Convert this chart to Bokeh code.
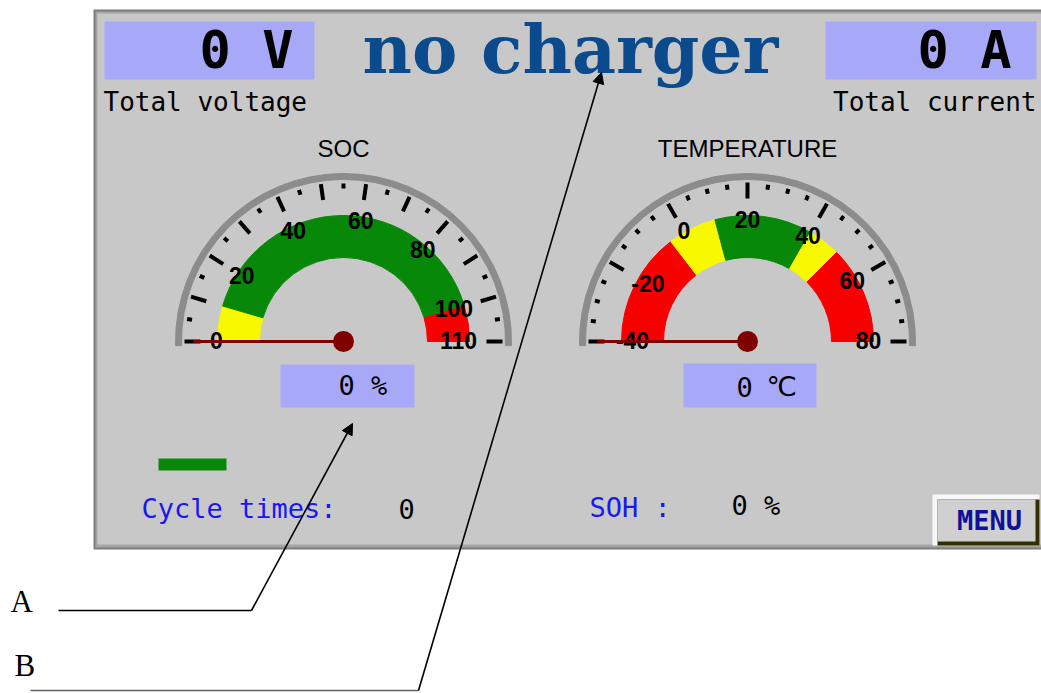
import numpy as np
from bokeh.plotting import figure
from bokeh.models import Range1d, Arrow, NormalHead
from bokeh.core.properties import value
from bokeh.embed import file_html
from bokeh.resources import INLINE

# ---------------- data ----------------
status_text = "no charger"
total_voltage = 0          # V
total_current = 0          # A
soc_value = 0              # %
temp_value = 0             # degC
cycle_times = 0
soh_value = 0              # %

soc_range = [0, 110]
soc_labels = [0, 20, 40, 60, 80, 100, 110]
soc_major = [0, 10, 20, 30, 40, 50, 60, 70, 80, 90, 100, 110]
soc_minor = [5, 15, 25, 35, 45, 55, 65, 75, 85, 95, 105]
soc_band_start = [0, 10, 100]
soc_band_end = [10, 100, 110]
soc_needle = 0

temp_range = [-40, 80]
temp_labels = [-40, -20, 0, 20, 40, 60, 80]
temp_major = [-40, -20, 0, 20, 40, 60, 80]
temp_minor = [-35, -30, -25, -15, -10, -5, 5, 10, 15, 25, 30, 35, 45, 50, 55, 65, 70, 75]
temp_band_start = [-40, -5, 10, 40, 50]
temp_band_end = [-5, 10, 40, 50, 80]
temp_needle = -40

# ---------------- styles ----------------
PANEL = "#C8C8C8"
BOX = "#A8A8F8"
GREEN = "#088808"
YELLOW = "#F8F800"
RED = "#F80000"
RIM = "#8C8C8C"
NEEDLE = "#800000"
soc_band_colors = [YELLOW, GREEN, RED]
temp_band_colors = [RED, YELLOW, GREEN, YELLOW, RED]
MONO = "DejaVu Sans Mono"

W, H = 1041, 693
p = figure(width=W, height=H, output_backend="svg", toolbar_location=None,
           x_range=Range1d(0, W), y_range=Range1d(H, 0),
           min_border=0, background_fill_color="white", border_fill_color="white")
p.axis.visible = False
p.grid.visible = False
p.outline_line_color = None


def txt(x, y, s, size, color="black", font=MONO, style="normal", align="left"):
    # y is the vertical centre of the capitals
    p.text(x=[x], y=[y], text=[s], text_font=value(font), text_font_size=f"{size}px",
           text_color=color, text_font_style=style, text_align=align, text_baseline="middle")


# panel with bevelled border
p.quad(left=[93], right=[1060], top=[9], bottom=[549], fill_color="#7C7C7C", line_color=None)
p.quad(left=[95], right=[1060], top=[11], bottom=[547], fill_color="#A4A4A4", line_color=None)
p.quad(left=[97], right=[1060], top=[13], bottom=[544], fill_color=PANEL, line_color=None)

# top value boxes
p.quad(left=[104, 825], right=[314, 1036], top=[21, 21], bottom=[79, 79], fill_color=BOX, line_color=None)
txt(293, 49, f"{total_voltage} V", 52, style="bold", align="right")
txt(1011, 49, f"{total_current} A", 52, style="bold", align="right")
txt(103, 101, "Total voltage", 26)
txt(1036, 101, "Total current", 26, align="right")
txt(570, 48, status_text, 68, color="#0B4A8C", font="DejaVu Serif", style="bold", align="center")


def gauge(cx, cy, vmin, vmax, major, minor, labels, bstart, bend, bcolors, needle, title):
    def ang(v):
        return np.pi * (1 - (np.asarray(v, dtype=float) - vmin) / (vmax - vmin))

    txt(cx, 148, title, 24, font="Liberation Sans", align="center")
    p.annular_wedge(x=cx, y=cy, inner_radius=162, outer_radius=168,
                    start_angle=-0.025, end_angle=np.pi + 0.025, color=RIM)
    p.annular_wedge(x=[cx] * len(bstart), y=[cy] * len(bstart), inner_radius=84, outer_radius=126,
                    start_angle=ang(bend), end_angle=ang(bstart), color=bcolors)
    a = ang(major)
    p.segment(x0=cx + 143 * np.cos(a), y0=cy - 143 * np.sin(a),
              x1=cx + 159 * np.cos(a), y1=cy - 159 * np.sin(a), line_width=4, line_color="black")
    a = ang(minor)
    p.segment(x0=cx + 153 * np.cos(a), y0=cy - 153 * np.sin(a),
              x1=cx + 158 * np.cos(a), y1=cy - 158 * np.sin(a), line_width=4, line_color="black")
    lab = [str(v) for v in labels]
    a = ang(labels)
    r = np.array([127 - 6 * (len(s) - 1) for s in lab])
    p.text(x=cx + r * np.cos(a), y=cy - r * np.sin(a) - 1, text=lab,
           text_font=value("Liberation Sans"), text_font_size="23px", text_font_style="bold",
           text_align="center", text_baseline="middle", text_color="black")
    a = float(ang(needle))
    p.segment(x0=[cx], y0=[cy], x1=[cx + 150 * np.cos(a)], y1=[cy - 150 * np.sin(a)],
              line_width=3, line_color=NEEDLE)
    p.scatter(x=[cx], y=[cy], size=21, marker="circle", fill_color=NEEDLE, line_color=None)


gauge(343, 341, soc_range[0], soc_range[1], soc_major, soc_minor, soc_labels,
      soc_band_start, soc_band_end, soc_band_colors, soc_needle, "SOC")
gauge(747, 341, temp_range[0], temp_range[1], temp_major, temp_minor, temp_labels,
      temp_band_start, temp_band_end, temp_band_colors, temp_needle, "TEMPERATURE")

# gauge value boxes
p.quad(left=[280, 683], right=[414, 816], top=[364, 363], bottom=[407, 407], fill_color=BOX, line_color=None)
txt(338, 385, f"{soc_value} %", 27)
txt(736, 386, f"{temp_value}", 27)
txt(766, 386, "\u2103", 27, font="DejaVu Sans")

# small green bar
p.quad(left=[158], right=[226], top=[458], bottom=[470], fill_color=GREEN, line_color=None)

# bottom texts
txt(141, 508, "Cycle times:", 27, color="#1818F0")
txt(398, 508, f"{cycle_times}", 27)
txt(589, 507, "SOH :", 27, color="#1818F0")
txt(731, 505, f"{soh_value} %", 27)

# MENU button
p.quad(left=[932], right=[1039], top=[494], bottom=[545], fill_color="#F8F8F8", line_color=None)
p.quad(left=[937], right=[1039], top=[499], bottom=[545], fill_color="#303000", line_color=None)
p.quad(left=[937], right=[1035], top=[499], bottom=[541], fill_color="#D0D0D0", line_color=None)
txt(989, 520, "MENU", 27, color="#10109A", style="bold", align="center")

# callout annotations
callout_labels = ["A", "B"]
p.text(x=[10, 14], y=[601, 665], text=callout_labels, text_font=value("Liberation Serif"),
       text_font_size="31px", text_color="black", text_align="left", text_baseline="middle")
p.line(x=[58, 251], y=[610, 610], line_color="black", line_width=1.6)
p.add_layout(Arrow(end=NormalHead(size=11, fill_color="black", line_color="black"),
                   x_start=251, y_start=610, x_end=352, y_end=423, line_width=1.6))
p.line(x=[30, 418], y=[690, 690], line_color="#606060", line_width=1.4)
p.add_layout(Arrow(end=NormalHead(size=11, fill_color="black", line_color="black"),
                   x_start=418, y_start=690, x_end=601, y_end=72, line_width=1.6))

open("out.html", "w").write(file_html(p, INLINE))
